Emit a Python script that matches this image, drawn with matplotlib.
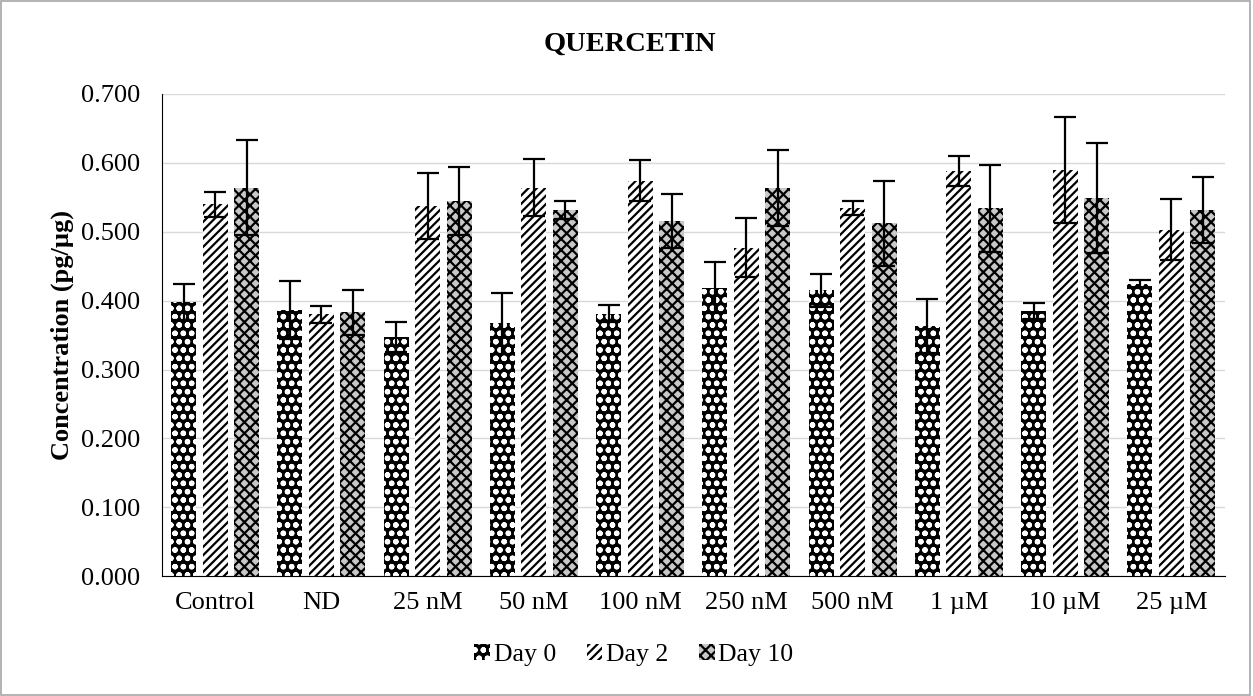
import numpy as np
import matplotlib
matplotlib.use("Agg")
import matplotlib.pyplot as plt
from matplotlib.patches import Rectangle

plt.rcParams['font.family'] = ['Liberation Serif', 'DejaVu Serif']
plt.rcParams['hatch.linewidth'] = 1.6

categories = ["Control", "ND", "25 nM", "50 nM", "100 nM", "250 nM",
              "500 nM", "1 µM", "10 µM", "25 µM"]
series = ["Day 0", "Day 2", "Day 10"]

day0 = [0.398, 0.387, 0.347, 0.367, 0.381, 0.419, 0.415, 0.363, 0.385, 0.424]
day2 = [0.540, 0.380, 0.537, 0.564, 0.574, 0.477, 0.535, 0.588, 0.590, 0.503]
day10 = [0.564, 0.383, 0.545, 0.532, 0.516, 0.564, 0.512, 0.534, 0.549, 0.532]

err0 = [0.026, 0.042, 0.022, 0.044, 0.012, 0.037, 0.024, 0.039, 0.012, 0.006]
err2 = [0.018, 0.012, 0.048, 0.041, 0.030, 0.043, 0.010, 0.022, 0.077, 0.044]
err10 = [0.069, 0.033, 0.049, 0.013, 0.039, 0.055, 0.062, 0.063, 0.080, 0.048]

fig = plt.figure(figsize=(12.53, 6.96), dpi=100)
ax = fig.add_axes([0.1293, 0.172, 0.848, 0.693])

x = np.arange(len(categories))
w = 0.235
off = 0.296

styles = [
    dict(facecolor="black", edgecolor="white", hatch="oo"),
    dict(facecolor="white", edgecolor="black", hatch="////"),
    dict(facecolor="#c8c8c8", edgecolor="black", hatch="xxx"),
]
vals = [day0, day2, day10]
errs = [err0, err2, err10]

handles = []
for i in range(3):
    b = ax.bar(x + (i - 1) * off, vals[i], w, linewidth=0, zorder=2,
               label=series[i], **styles[i])
    ax.errorbar(x + (i - 1) * off, vals[i], yerr=errs[i], fmt="none",
                ecolor="black", elinewidth=1.6, capsize=8, capthick=1.6, zorder=3)
    handles.append(b)

ax.set_xlim(-0.5, len(categories) - 0.5)
ax.set_ylim(0, 0.7)
ticks = np.arange(0, 0.71, 0.1)
ax.set_yticks(ticks)
ax.set_yticklabels([f"{v:.3f}" for v in ticks], fontsize=19)
ax.set_xticks(x)
ax.set_xticklabels(categories, fontsize=19)
ax.tick_params(axis="y", length=0, pad=16)
ax.tick_params(axis="x", length=0, pad=11)
ax.yaxis.grid(True, color="#d9d9d9", linewidth=1)
ax.set_axisbelow(True)
for s in ["top", "right"]:
    ax.spines[s].set_visible(False)
ax.spines["left"].set_color("black")
ax.spines["bottom"].set_color("black")

ax.set_ylabel("Concentration (pg/µg)", fontsize=19, fontweight="bold", labelpad=5)
fig.text(0.503, 0.937, "QUERCETIN", ha="center", va="center", fontsize=20.5, fontweight="bold")

fig.legend(handles=handles, labels=series, loc="center", bbox_to_anchor=(0.506, 0.059),
           ncol=3, frameon=False, fontsize=18.5, handlelength=0.6, handleheight=0.6,
           handletextpad=0.15, columnspacing=1.2)

fig.patches.append(Rectangle((0.001, 0.001), 0.997, 0.997, transform=fig.transFigure,
                             fill=False, edgecolor="#a6a6a6", linewidth=1.2))

fig.savefig("out.png", dpi=100)
